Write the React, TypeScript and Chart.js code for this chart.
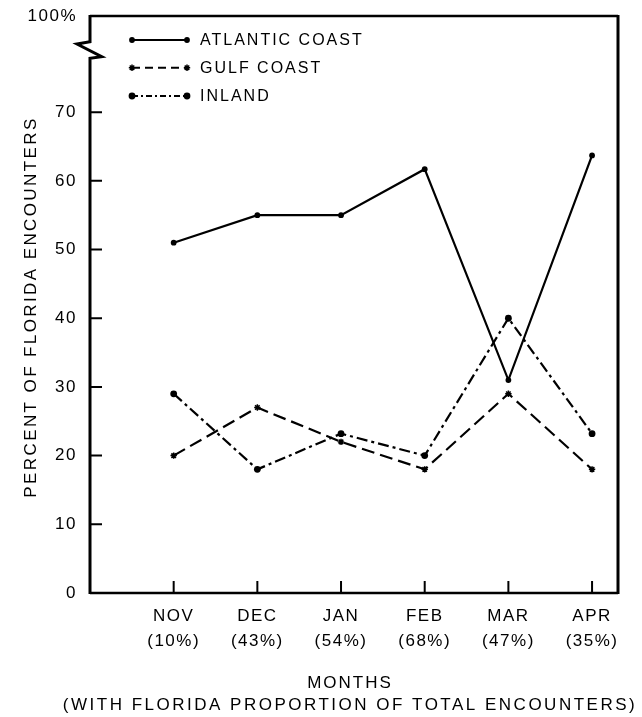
import React, { useEffect, useRef } from 'react';
import { Chart, registerables } from 'chart.js';

Chart.register(...registerables);

const months = ['NOV', 'DEC', 'JAN', 'FEB', 'MAR', 'APR'];
const shares = ['(10%)', '(43%)', '(54%)', '(68%)', '(47%)', '(35%)'];
const monthPositions = [1, 2, 3, 4, 5, 6];
const atlantic = [51, 55, 55, 61.7, 31, 63.7];
const gulf = [20, 27, 22, 18, 29, 18];
const inland = [29, 18, 23.2, 20, 40, 23.2];
const yTickValues = [0, 10, 20, 30, 40, 50, 60, 70];
const yTopValue = 84;
const yTopLabel = '100%';
const seriesNames = ['ATLANTIC COAST', 'GULF COAST', 'INLAND'];
const yTitle = 'PERCENT OF FLORIDA ENCOUNTERS';
const xTitle = ['MONTHS', '(WITH FLORIDA PROPORTION OF TOTAL ENCOUNTERS)'];

const FONT = '"Liberation Sans", Arial, sans-serif';
const LS = '1.5px';

const styles = [
  { dash: [] as number[], legendDash: [] as number[], point: 'circle', radius: 2.9 },
  { dash: [13, 6], legendDash: [8, 5], point: 'star', radius: 3.2 },
  { dash: [11, 4, 3, 4], legendDash: [6, 3, 2, 3], point: 'circle', radius: 3.4 },
];

const framePlugin = {
  id: 'frame',
  beforeUpdate(chart: any) {
    chart.ctx.letterSpacing = LS;
  },
  beforeLayout(chart: any) {
    chart.ctx.letterSpacing = LS;
  },
  beforeDraw(chart: any) {
    chart.ctx.letterSpacing = LS;
  },
  beforeDatasetsDraw(chart: any) {
    const { ctx, chartArea } = chart;
    const { left, right, top, bottom } = chartArea;
    const xs = chart.scales.x;
    const ys = chart.scales.y;
    ctx.save();
    ctx.strokeStyle = '#000';
    ctx.lineCap = 'butt';
    ctx.lineJoin = 'miter';
    // left axis with break
    ctx.lineWidth = 3;
    ctx.beginPath();
    ctx.moveTo(left, top - 1);
    ctx.lineTo(left, top + 25.7);
    ctx.lineTo(left - 13, top + 28);
    ctx.lineTo(left + 11.7, top + 40.7);
    ctx.lineTo(left, top + 42.3);
    ctx.lineTo(left, bottom + 1);
    ctx.stroke();
    // right border
    ctx.beginPath();
    ctx.moveTo(right, top - 1);
    ctx.lineTo(right, bottom + 1);
    ctx.stroke();
    // top and bottom
    ctx.lineWidth = 2.5;
    ctx.beginPath();
    ctx.moveTo(left, top);
    ctx.lineTo(right, top);
    ctx.moveTo(left, bottom);
    ctx.lineTo(right, bottom);
    ctx.stroke();
    // inward ticks
    ctx.lineWidth = 2;
    ctx.beginPath();
    yTickValues.forEach((v) => {
      if (v === 0) return;
      const y = ys.getPixelForValue(v);
      ctx.moveTo(left, y);
      ctx.lineTo(left + 12, y);
    });
    monthPositions.forEach((v) => {
      const x = xs.getPixelForValue(v);
      ctx.moveTo(x, bottom);
      ctx.lineTo(x, bottom - 12);
    });
    ctx.stroke();
    ctx.restore();
  },
  afterDraw(chart: any) {
    const { ctx, chartArea } = chart;
    ctx.save();
    ctx.fillStyle = '#000';
    ctx.strokeStyle = '#000';
    // legend
    const rowY = [40, 67.7, 96];
    const x0 = 132;
    const x1 = 187;
    chart.data.datasets.forEach((ds: any, i: number) => {
      const y = rowY[i];
      ctx.lineWidth = 2;
      ctx.setLineDash(styles[i].legendDash);
      ctx.beginPath();
      ctx.moveTo(x0, y);
      ctx.lineTo(x1, y);
      ctx.stroke();
      ctx.setLineDash([]);
      [x0, x1].forEach((px) => {
        if (styles[i].point === 'star') {
          const r = 3.2;
          ctx.lineWidth = 1.5;
          ctx.beginPath();
          ctx.moveTo(px - r, y);
          ctx.lineTo(px + r, y);
          ctx.moveTo(px, y - r);
          ctx.lineTo(px, y + r);
          ctx.moveTo(px - r * 0.7, y - r * 0.7);
          ctx.lineTo(px + r * 0.7, y + r * 0.7);
          ctx.moveTo(px - r * 0.7, y + r * 0.7);
          ctx.lineTo(px + r * 0.7, y - r * 0.7);
          ctx.stroke();
        } else {
          ctx.beginPath();
          ctx.arc(px, y, styles[i].radius, 0, Math.PI * 2);
          ctx.fill();
        }
      });
      ctx.letterSpacing = '2px';
      ctx.font = `16px ${FONT}`;
      ctx.textAlign = 'left';
      ctx.textBaseline = 'middle';
      ctx.fillText(ds.label, 200, y + 1);
    });
    // axis titles
    ctx.letterSpacing = '2px';
    ctx.font = `17px ${FONT}`;
    ctx.textAlign = 'center';
    ctx.textBaseline = 'middle';
    const cx = (chartArea.left + chartArea.right) / 2;
    ctx.fillText(xTitle[0], cx - 4, 683);
    ctx.letterSpacing = '2.5px';
    ctx.fillText(xTitle[1], cx - 4, 705);
    ctx.letterSpacing = '2.4px';
    ctx.translate(31, 307);
    ctx.rotate(-Math.PI / 2);
    ctx.fillText(yTitle, 0, 0);
    ctx.restore();
  },
};

export default function App() {
  const ref = useRef<HTMLCanvasElement | null>(null);
  useEffect(() => {
    if (!ref.current) return;
    const mk = (vals: number[]) => vals.map((v, i) => ({ x: monthPositions[i], y: v }));
    const all = [atlantic, gulf, inland];
    const chart = new Chart(ref.current, {
      type: 'line',
      data: {
        datasets: all.map((vals, i) => ({
          label: seriesNames[i],
          data: mk(vals),
          borderColor: '#000',
          backgroundColor: '#000',
          borderWidth: 2.2,
          borderDash: styles[i].dash,
          pointStyle: styles[i].point as any,
          pointRadius: styles[i].radius,
          pointBorderWidth: styles[i].point === 'star' ? 1.5 : 0,
          pointBackgroundColor: '#000',
          pointBorderColor: '#000',
          tension: 0,
          fill: false,
          clip: false as any,
        })),
      },
      options: {
        responsive: false,
        animation: false,
        devicePixelRatio: 1,
        layout: { padding: { top: 16, right: 24, left: 0, bottom: 0 } },
        plugins: {
          legend: { display: false },
          tooltip: { enabled: false },
          title: { display: false },
        },
        scales: {
          x: {
            type: 'linear',
            min: 0,
            max: 6.31,
            afterBuildTicks: (s: any) => {
              s.ticks = monthPositions.map((v) => ({ value: v }));
            },
            afterFit: (s: any) => {
              s.height = 124;
              s.paddingLeft = 0;
              s.paddingRight = 0;
            },
            grid: { display: false, drawTicks: false },
            border: { display: false },
            ticks: {
              padding: 11,
              color: '#000',
              autoSkip: false,
              maxRotation: 0,
              font: { family: FONT, size: 17, lineHeight: 1.45 },
              callback: (v: any) => {
                const i = monthPositions.indexOf(Number(v));
                return i >= 0 ? [months[i], shares[i]] : '';
              },
            },
          },
          y: {
            type: 'linear',
            min: 0,
            max: yTopValue,
            afterBuildTicks: (s: any) => {
              s.ticks = [...yTickValues, yTopValue].map((v) => ({ value: v }));
            },
            afterFit: (s: any) => {
              s.width = 90;
              s.paddingTop = 0;
              s.paddingBottom = 0;
            },
            grid: { display: false, drawTicks: false },
            border: { display: false },
            ticks: {
              padding: 13,
              color: '#000',
              autoSkip: false,
              font: { family: FONT, size: 17 },
              callback: (v: any) => (Number(v) === yTopValue ? yTopLabel : String(v)),
            },
          },
        },
      },
      plugins: [framePlugin],
    });
    return () => chart.destroy();
  }, []);
  return (
    <div style={{ position: 'fixed', left: 0, top: 0, width: 642, height: 717, background: '#fff' }}>
      <canvas ref={ref} width={642} height={717} />
    </div>
  );
}
